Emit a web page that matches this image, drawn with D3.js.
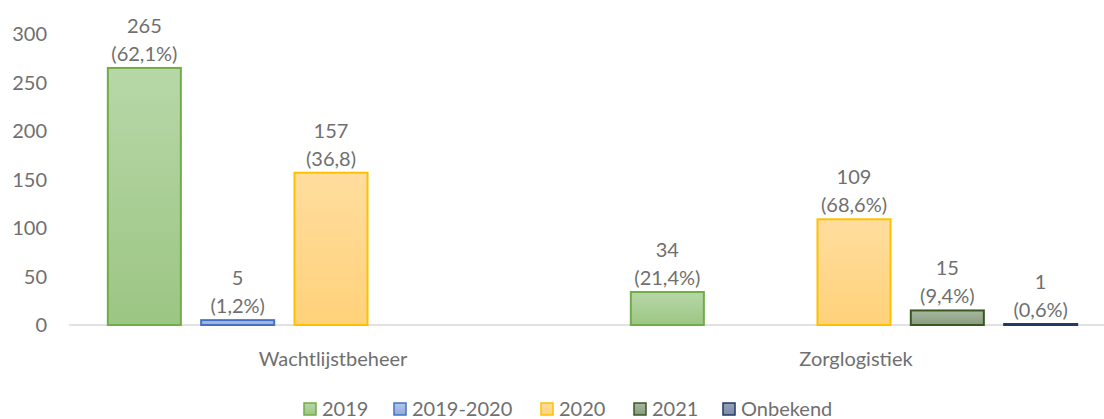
<!DOCTYPE html>
<html><head><meta charset="utf-8">
<script src="https://cdn.jsdelivr.net/npm/d3@7"></script>
<style>html,body{margin:0;padding:0;background:#fff;}svg{display:block;}</style>
</head><body>
<svg id="chart" width="1104" height="419"></svg>
<script>
const categories = ["Wachtlijstbeheer", "Zorglogistiek"];
const seriesNames = ["2019", "2019-2020", "2020", "2021", "Onbekend"];
const values2019 = [265, 34];
const values2019_2020 = [5, null];
const values2020 = [157, 109];
const values2021 = [null, 15];
const valuesOnbekend = [null, 1];
const pct2019 = ["(62,1%)", "(21,4%)"];
const pct2019_2020 = ["(1,2%)", null];
const pct2020 = ["(36,8)", "(68,6%)"];
const pct2021 = [null, "(9,4%)"];
const pctOnbekend = [null, "(0,6%)"];
const yTicks = [0, 50, 100, 150, 200, 250, 300];

const seriesValues = [values2019, values2019_2020, values2020, values2021, valuesOnbekend];
const seriesPct = [pct2019, pct2019_2020, pct2020, pct2021, pctOnbekend];
const styles = [
  {top:"#b7d7a8", bot:"#9cc683", stroke:"#70ad47"},
  {top:"#b4c7e7", bot:"#8faadc", stroke:"#4472c4"},
  {top:"#ffdd9e", bot:"#ffd27a", stroke:"#ffc000"},
  {top:"#a9b8a0", bot:"#889c7e", stroke:"#385723"},
  {top:"#95a3ba", bot:"#7b8ca8", stroke:"#203864"}
];

const svg = d3.select("#chart");
const font = "Lato, 'Open Sans', sans-serif";
const textColor = "#6f6f6f";
const fs = 20;

const y = d3.scaleLinear().domain([0, 300]).range([325, 34]);
const x0 = d3.scaleBand().domain(categories).range([69.5, 1115.5]).paddingInner(0).paddingOuter(0);
const x1 = d3.scaleBand().domain(seriesNames).range([0, x0.bandwidth()]).paddingInner(0.196).paddingOuter(0.4);

const defs = svg.append("defs");
styles.forEach((s, i) => {
  const g = defs.append("linearGradient").attr("id", "g" + i).attr("x1", 0).attr("y1", 0).attr("x2", 0).attr("y2", 1);
  g.append("stop").attr("offset", "0%").attr("stop-color", s.top);
  g.append("stop").attr("offset", "100%").attr("stop-color", s.bot);
});

// y axis labels
svg.append("g").selectAll("text").data(yTicks).join("text")
  .attr("x", 47).attr("y", d => y(d)).attr("dy", "0.35em")
  .attr("text-anchor", "end").attr("font-family", font).attr("font-size", fs)
  .attr("fill", textColor).text(d => d);

// baseline
svg.append("line").attr("x1", 69).attr("x2", 1104).attr("y1", y(0)).attr("y2", y(0))
  .attr("stroke", "#d9d9d9").attr("stroke-width", 1.5);

// bars
const data = [];
categories.forEach((c, ci) => {
  seriesNames.forEach((s, si) => {
    const v = seriesValues[si][ci];
    if (v != null) data.push({c, s, si, v, p: seriesPct[si][ci]});
  });
});

svg.append("g").selectAll("rect").data(data).join("rect")
  .attr("x", d => x0(d.c) + x1(d.s) + 1)
  .attr("width", x1.bandwidth() - 2)
  .attr("y", d => y(d.v))
  .attr("height", d => y(0) - y(d.v))
  .attr("fill", d => `url(#g${d.si})`)
  .attr("stroke", d => styles[d.si].stroke).attr("stroke-width", 2);

const lbl = svg.append("g").attr("font-family", font).attr("font-size", fs).attr("fill", textColor).attr("text-anchor", "middle");
data.forEach(d => {
  const cx = x0(d.c) + x1(d.s) + x1.bandwidth() / 2;
  lbl.append("text").attr("x", cx).attr("y", y(d.v) - 35).text(d.v);
  lbl.append("text").attr("x", cx).attr("y", y(d.v) - 7).text(d.p);
});

// category labels
svg.append("g").selectAll("text").data(categories).join("text")
  .attr("x", d => x0(d) + x0.bandwidth() / 2 + 2).attr("y", 366)
  .attr("text-anchor", "middle").attr("font-family", font).attr("font-size", fs)
  .attr("fill", textColor).text(d => d);

// legend
const legendX = [304, 394, 541, 634, 723];
const lg = svg.append("g");
seriesNames.forEach((s, i) => {
  lg.append("rect").attr("x", legendX[i]).attr("y", 403).attr("width", 12).attr("height", 12)
    .attr("fill", `url(#g${i})`).attr("stroke", styles[i].stroke).attr("stroke-width", 1.5);
  lg.append("text").attr("x", legendX[i] + 18).attr("y", 416)
    .attr("font-family", font).attr("font-size", fs).attr("fill", textColor).text(s);
});
</script>
</body></html>
